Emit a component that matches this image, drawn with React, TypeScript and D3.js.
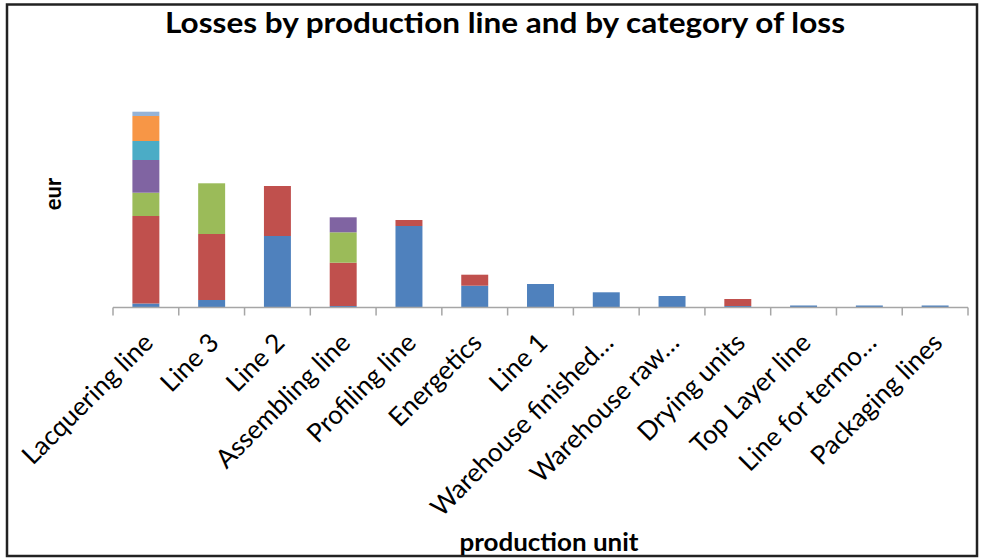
import React from "react";
import * as d3 from "d3";

const categories = [
  "Lacquering line",
  "Line 3",
  "Line 2",
  "Assembling line",
  "Profiling line",
  "Energetics",
  "Line 1",
  "Warehouse finished…",
  "Warehouse raw…",
  "Drying units",
  "Top Layer line",
  "Line for termo…",
  "Packaging lines",
];

// losses in thousand eur (estimated; no value axis in the original)
const seriesNames = ["Loss 1", "Loss 2", "Loss 3", "Loss 4", "Loss 5", "Loss 6", "Loss 7"];
const loss1 = [4, 7.5, 71.5, 1.5, 81.5, 21.8, 23.5, 15.2, 11.5, 1.5, 2, 2, 2];
const loss2 = [87.5, 66, 50, 43.3, 6, 11, 0, 0, 0, 7, 0, 0, 0];
const loss3 = [23.3, 50.7, 0, 30.4, 0, 0, 0, 0, 0, 0, 0, 0, 0];
const loss4 = [32.7, 0, 0, 15, 0, 0, 0, 0, 0, 0, 0, 0, 0];
const loss5 = [19, 0, 0, 0, 0, 0, 0, 0, 0, 0, 0, 0, 0];
const loss6 = [25, 0, 0, 0, 0, 0, 0, 0, 0, 0, 0, 0, 0];
const loss7 = [4.3, 0, 0, 0, 0, 0, 0, 0, 0, 0, 0, 0, 0];
const colors = ["#4F81BD", "#C0504D", "#9BBB59", "#8064A2", "#4BACC6", "#F79646", "#95B3D7"];

const seriesValues = [loss1, loss2, loss3, loss4, loss5, loss6, loss7];

export default function App() {
  const W = 981;
  const H = 558;
  const x0 = 113;
  const x1 = 968;
  const yBase = 307.5;

  const x = d3.scaleBand<string>().domain(categories).range([x0, x1]).padding(0);
  const y = d3.scaleLinear().domain([0, 200]).range([yBase, yBase - 200]);

  const rows = categories.map((c, i) => {
    const r: any = { cat: c };
    seriesNames.forEach((s, j) => (r[s] = seriesValues[j][i]));
    return r;
  });
  const stacked = d3.stack<any>().keys(seriesNames)(rows);

  const bw = x.bandwidth() * 0.41;
  const font = "Lato, 'Open Sans', sans-serif";

  return (
    <svg
      width={W}
      height={H}
      style={{ position: "absolute", left: 0, top: 0, display: "block", background: "#fff" }}
    >
      <rect x={0} y={0} width={W} height={H} fill="#fff" />
      <rect x={7} y={4.5} width={970} height={551.5} fill="none" stroke="#222" strokeWidth={2.5} />
      <text
        x={505}
        y={33}
        textAnchor="middle"
        fontFamily={font}
        fontWeight="bold"
        fontSize={28}
        textLength={680}
        lengthAdjust="spacingAndGlyphs"
        fill="#000"
      >
        Losses by production line and by category of loss
      </text>
      {stacked.map((layer, j) => (
        <g key={seriesNames[j]} fill={colors[j]}>
          {layer.map((d, i) =>
            d[1] - d[0] > 0 ? (
              <rect
                key={i}
                x={(x(categories[i]) as number) + (x.bandwidth() - bw) / 2}
                y={y(d[1])}
                width={bw}
                height={y(d[0]) - y(d[1])}
              />
            ) : null
          )}
        </g>
      ))}
      <line x1={x0} x2={x1} y1={yBase} y2={yBase} stroke="#A6A6A6" strokeWidth={1.5} />
      {categories.concat([""]).map((c, i) => {
        const tx = x0 + i * x.step();
        return <line key={"t" + i} x1={tx} x2={tx} y1={yBase} y2={yBase + 8} stroke="#A6A6A6" strokeWidth={1.5} />;
      })}
      {categories.map((c) => {
        const cx = (x(c) as number) + x.bandwidth() / 2;
        return (
          <text
            key={c}
            transform={`translate(${cx - 5},${yBase + 23}) rotate(-45)`}
            textAnchor="end"
            dy="0.75em"
            fontFamily={font}
            fontSize={26}
            fill="#000"
          >
            {c}
          </text>
        );
      })}
      <text
        transform={`translate(61,194) rotate(-90)`}
        textAnchor="middle"
        fontFamily={font}
        fontWeight="bold"
        fontSize={22}
        fill="#000"
      >
        eur
      </text>
      <text
        x={549}
        y={551}
        textAnchor="middle"
        fontFamily={font}
        fontWeight="bold"
        fontSize={24}
        textLength={179}
        lengthAdjust="spacingAndGlyphs"
        fill="#000"
      >
        production unit
      </text>
    </svg>
  );
}
